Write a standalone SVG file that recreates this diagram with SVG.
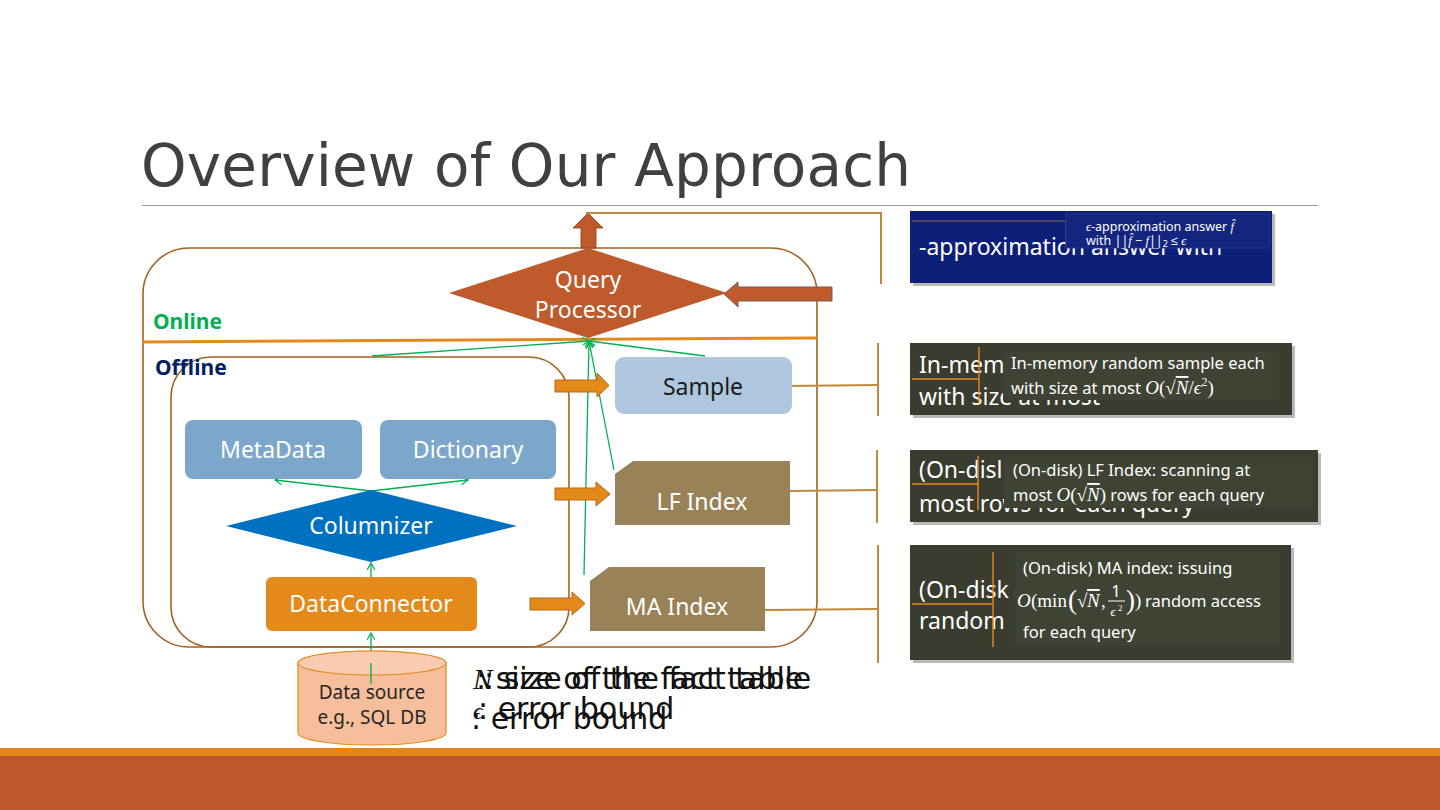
<svg xmlns="http://www.w3.org/2000/svg" width="1440" height="810" viewBox="0 0 1440 810">
<style>
.lbl{font-family:"Noto Sans","Liberation Sans",sans-serif;font-size:23px;text-anchor:middle}
.w{fill:#ffffff}
.big{font-family:"Noto Sans","Liberation Sans",sans-serif;font-size:23px;fill:#ffffff}
.sm{font-family:"Noto Sans","Liberation Sans",sans-serif;font-size:16.5px;fill:#ffffff}
.math{font-family:"Liberation Serif","DejaVu Serif",serif;font-style:italic}
.mup{font-family:"Liberation Serif","DejaVu Serif",serif;fill:#ffffff}
.ov{text-decoration:overline}
.green{stroke:#00B050;stroke-width:1.3;fill:none}
.brown{fill:none;stroke:#A3621F;stroke-width:1.6}
.tan{fill:none;stroke:#C08A3E;stroke-width:2}
.orl{fill:none;stroke:#E48A1A;stroke-width:1.4}
.oarrow{fill:#E48A1A;stroke:#B5661A;stroke-width:1}
.dark{fill:#393C2E}
.shadow{fill:#8a8a8a;opacity:0.6}
.over{fill:#3F4334}
.leg{font-family:"DejaVu Sans","Liberation Sans",sans-serif;font-size:30px;fill:#111111}
</style>
<defs>
<marker id="ga" viewBox="0 0 8 8" refX="7" refY="4" markerWidth="8" markerHeight="8" orient="auto" markerUnits="userSpaceOnUse">
<path d="M0,0 L7,4 L0,8" fill="none" stroke="#00B050" stroke-width="1.2"/>
</marker>
</defs>
<rect width="1440" height="810" fill="#ffffff"/>

<text x="141" y="186" font-family="DejaVu Sans,sans-serif" font-size="58" fill="#404040" textLength="770">Overview of Our Approach</text>
<line x1="142" y1="205.5" x2="1318" y2="205.5" stroke="#9a9a9a" stroke-width="1.2"/>

<g id="containers">
<rect class="brown" x="143" y="248" width="674" height="399" rx="46"/>
<rect class="brown" x="171" y="357" width="398" height="290" rx="40"/>
<line x1="143" y1="342" x2="817" y2="338" stroke="#E48A1A" stroke-width="3"/>
<text x="153" y="329" font-family="Noto Sans,sans-serif" font-weight="bold" font-size="21" fill="#00B050">Online</text>
<text x="155" y="375" font-family="Noto Sans,sans-serif" font-weight="bold" font-size="21" fill="#002060">Offline</text>
</g>

<g id="connectors">
<line class="green" x1="371" y1="684" x2="371" y2="633" marker-end="url(#ga)"/>
<line class="green" x1="371" y1="578" x2="371" y2="563" marker-end="url(#ga)"/>
<line class="green" x1="371" y1="491" x2="275" y2="480" marker-end="url(#ga)"/>
<line class="green" x1="371" y1="491" x2="468" y2="480" marker-end="url(#ga)"/>
<line class="green" x1="372" y1="356" x2="589" y2="341" marker-end="url(#ga)"/>
<line class="green" x1="705" y1="356" x2="589" y2="341" marker-end="url(#ga)"/>
<line class="green" x1="614" y1="470" x2="589" y2="341" marker-end="url(#ga)"/>
<line class="green" x1="584" y1="575" x2="589" y2="341" marker-end="url(#ga)"/>
<polygon class="oarrow" points="555,380 597,380 597,373 609,385.5 597,397 597,392 555,392"/>
<polygon class="oarrow" points="555,488 596,488 596,482 610,494 596,506 596,500 555,500"/>
<polygon class="oarrow" points="530,598 572,598 572,592 585,603.5 572,615 572,610 530,610"/>
<polygon points="581,248 581,228 573,228 588,213 603,228 596,228 596,248" fill="#BE5A2B" stroke="#8a3f1d" stroke-width="0.8"/>
<polygon points="832,287 738,287 738,282 724,294 738,307 738,301 832,301" fill="#BE5A2B" stroke="#7a5a50" stroke-width="1"/>
<polyline class="tan" points="586,213 881,213 881,284"/>
<line class="tan" x1="878" y1="343" x2="878" y2="416"/>
<line class="tan" x1="877" y1="450" x2="877" y2="523"/>
<line class="tan" x1="878" y1="545" x2="878" y2="663"/>
<line class="tan" x1="785" y1="386" x2="878" y2="385"/>
<line class="tan" x1="790" y1="491" x2="877" y2="490"/>
<line class="tan" x1="765" y1="610" x2="878" y2="609"/>
</g>

<g id="query-processor">
<polygon points="449,293 588,248 727,293 588,338" fill="#BE5A2B"/>
<text class="lbl w" x="588" y="288">Query</text>
<text class="lbl w" x="588" y="318">Processor</text>
</g>

<g id="sample">
<rect x="615" y="357" width="177" height="57" rx="9" fill="#AEC7DF"/>
<text class="lbl" x="703" y="395" fill="#1a1a1a">Sample</text>
</g>

<g id="metadata">
<rect x="185" y="420" width="177" height="59" rx="8" fill="#7DA6CB"/>
<text class="lbl w" x="273" y="458">MetaData</text>
</g>

<g id="dictionary">
<rect x="380" y="420" width="176" height="59" rx="8" fill="#7DA6CB"/>
<text class="lbl w" x="468" y="458">Dictionary</text>
</g>

<g id="lf-index">
<polygon points="633,461 790,461 790,525 615,525 615,474" fill="#9A8258"/>
<text class="lbl w" x="702" y="510">LF Index</text>
</g>

<g id="ma-index">
<polygon points="609,567 765,567 765,631 590,631 590,581" fill="#9A8258"/>
<text class="lbl w" x="677" y="615">MA Index</text>
</g>

<g id="columnizer">
<polygon points="226,526 371,490 517,526 371,562" fill="#0070C0"/>
<text class="lbl w" x="371" y="534">Columnizer</text>
</g>

<g id="dataconnector">
<rect x="266" y="577" width="211" height="54" rx="6" fill="#E48A1A"/>
<text class="lbl w" x="371" y="612">DataConnector</text>
</g>

<g id="data-source">
<path d="M298,663 V733 A74,12 0 0 0 446,733 V663 A74,12 0 0 0 298,663 Z" fill="#F7BE9C" stroke="#E48A1A" stroke-width="1.2"/>
<ellipse cx="372" cy="663" rx="74" ry="12" fill="#F9CBB0" stroke="#E48A1A" stroke-width="1.2"/>
<line class="green" x1="371" y1="663" x2="371" y2="684"/>
<text x="372" y="699" font-family="Noto Sans,sans-serif" font-size="19" fill="#262626" text-anchor="middle">Data source</text>
<text x="372" y="724" font-family="Noto Sans,sans-serif" font-size="19" fill="#262626" text-anchor="middle">e.g., SQL DB</text>
</g>

<g id="legend">
<text class="leg" x="473" y="689"><tspan class="math" font-size="29">N</tspan><tspan x="484">: size of the fact table</tspan></text>
<text class="leg" x="476" y="689">: size of the fact table</text>
<text class="leg" x="473" y="719"><tspan class="math" font-size="24">ϵ</tspan><tspan x="478">: error bound</tspan></text>
<text class="leg" x="471" y="729">: error bound</text>
</g>

<g id="answer-box">
<rect class="shadow" x="913" y="214" width="362" height="72"/>
<rect x="910" y="211" width="362" height="72" fill="#0E1F7A"/>
<text class="big" x="919" y="255">-approximation answer  with</text>
<polyline points="912,221 1066,221 1066,248" fill="none" stroke="#8a6a3a" stroke-width="1"/>
<rect x="1066" y="214" width="204" height="34" fill="#13257f" stroke="#2a3a90" stroke-width="0.8"/>
<text x="1086" y="231" font-family="Noto Sans,sans-serif" font-size="12.5" fill="#ffffff"><tspan class="math">ϵ</tspan>-approximation answer <tspan class="math">f̂</tspan></text>
<text x="1086" y="245" font-family="Noto Sans,sans-serif" font-size="12.5" fill="#ffffff">with ||<tspan class="math">f̂</tspan> − <tspan class="math">f</tspan>||<tspan font-size="9" dy="2">2</tspan><tspan dy="-2"> ≤ </tspan><tspan class="math">ϵ</tspan></text>
</g>

<g id="sample-box">
<rect class="shadow" x="913" y="346" width="382" height="72"/>
<rect class="dark" x="910" y="343" width="382" height="72"/>
<text class="big" x="919" y="373">In-mem</text>
<text class="big" x="919" y="405">with size at most</text>
<line class="orl" x1="912" y1="379" x2="979" y2="379"/>
<line class="orl" x1="979" y1="347" x2="979" y2="403"/>
<rect class="over" x="1003" y="351" width="276" height="49"/>
<text class="sm" x="1011" y="369">In-memory random sample each</text>
<text class="sm" x="1011" y="394">with size at most <tspan class="math" font-size="19">O</tspan><tspan class="mup" font-size="19">(√</tspan><tspan class="math ov" font-size="19">N</tspan><tspan class="mup" font-size="19">/</tspan><tspan class="math" font-size="19">ϵ</tspan><tspan class="mup" font-size="12" dy="-8">2</tspan><tspan class="mup" font-size="19" dy="8">)</tspan></text>
</g>

<g id="lf-box">
<rect class="shadow" x="913" y="453" width="408" height="72"/>
<rect class="dark" x="910" y="450" width="408" height="72"/>
<text class="big" x="919" y="478">(On-disl</text>
<text class="big" x="919" y="512">most   rows for each query</text>
<line class="orl" x1="912" y1="484" x2="978" y2="484"/>
<line class="orl" x1="978" y1="456" x2="978" y2="510"/>
<rect class="over" x="1004" y="457" width="309" height="51"/>
<text class="sm" x="1013" y="476">(On-disk) LF Index: scanning at</text>
<text class="sm" x="1013" y="501">most  <tspan class="math" font-size="19">O</tspan><tspan class="mup" font-size="19">(√</tspan><tspan class="math ov" font-size="19">N</tspan><tspan class="mup" font-size="19">)</tspan> rows for each query</text>
</g>

<g id="ma-box">
<rect class="shadow" x="913" y="548" width="381" height="115"/>
<rect class="dark" x="910" y="545" width="381" height="115"/>
<text class="big" x="919" y="598">(On-disk</text>
<text class="big" x="919" y="629">random</text>
<line class="orl" x1="912" y1="604" x2="993" y2="604"/>
<line class="orl" x1="993" y1="552" x2="993" y2="647"/>
<rect class="over" x="1015" y="552" width="265" height="94"/>
<text class="sm" x="1023" y="574">(On-disk) MA index: issuing</text>
<text class="math" x="1017" y="607" font-size="19" fill="#ffffff">O</text>
<text class="mup" x="1031" y="607" font-size="19">(min</text>
<text class="mup" x="1068" y="609" font-size="27">(</text>
<text class="mup" x="1077" y="607" font-size="19">√</text>
<text class="math ov" x="1087" y="607" font-size="19" fill="#ffffff">N</text>
<text class="mup" x="1101" y="607" font-size="19">,</text>
<text class="sm" x="1116" y="597" font-size="12" text-anchor="middle">1</text>
<line x1="1108" y1="601" x2="1125" y2="601" stroke="#ffffff" stroke-width="1"/>
<text class="math" x="1113" y="616" font-size="13" fill="#ffffff" text-anchor="middle">ϵ</text>
<text class="mup" x="1118" y="611" font-size="9">2</text>
<text class="mup" x="1126" y="609" font-size="27">)</text>
<text class="mup" x="1135" y="607" font-size="19">)</text>
<text class="sm" x="1145" y="607">random access</text>
<text class="sm" x="1023" y="638">for each query</text>
</g>

<g id="footer">
<rect x="0" y="748" width="1440" height="9" fill="#E2861A"/>
<rect x="0" y="756" width="1440" height="54" fill="#BD582C"/>
</g>
</svg>
